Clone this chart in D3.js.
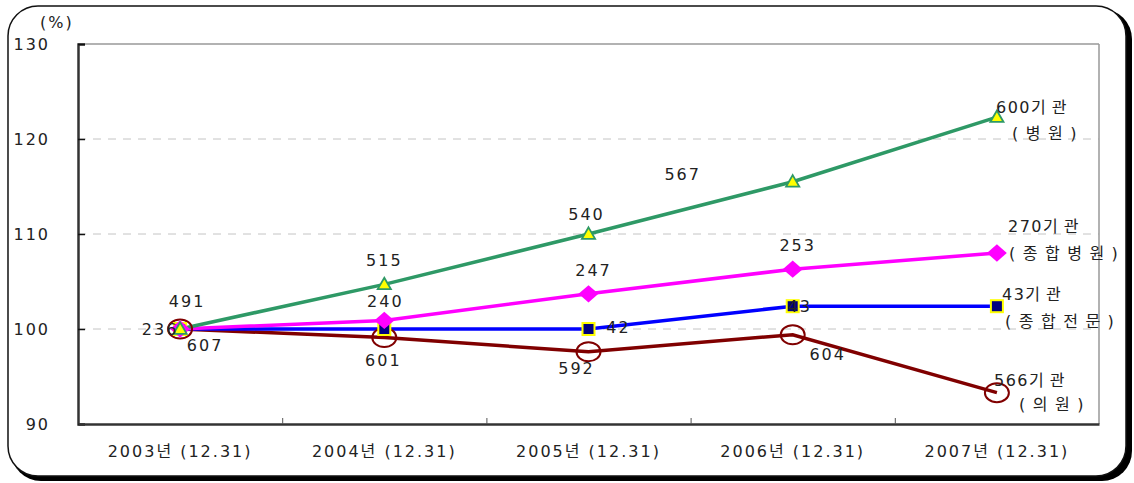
<!DOCTYPE html>
<html>
<head>
<meta charset="utf-8">
<script src="https://cdn.jsdelivr.net/npm/d3@7"></script>
<style>
  body { margin: 0; background: #fff; }
  svg text { font-family: "DejaVu Sans", "Noto Sans CJK KR", sans-serif; fill: #222; }
</style>
</head>
<body>
<svg id="main_chart" width="1134" height="483"></svg>
<script>
(function() {
  const years = ['2003년 (12.31)', '2004년 (12.31)', '2005년 (12.31)', '2006년 (12.31)', '2007년 (12.31)'];
  const yTicks = [90, 100, 110, 120, 130];

  // index values (2003 = 100)
  const hospital = [100, 104.7, 110, 115.5, 122.3];
  const generalHospital = [100, 100.9, 103.7, 106.3, 108];
  const tertiary = [100, 100, 100, 102.4, 102.4];
  const clinic = [100, 99.1, 97.6, 99.4, 93.3];

  // number of institutions
  const hospitalCount = ['491', '515', '540', '567', '600기관'];
  const generalCount = ['236', '240', '247', '253', '270기관'];
  const tertiaryCount = ['', '', '42', '43', '43기관'];
  const clinicCount = ['607', '601', '592', '604', '566기관'];
  const seriesNames = ['(병원)', '(종합병원)', '(종합전문)', '(의원)'];

  const svg = d3.select('#main_chart');

  // frame with shadow
  svg.append('rect').attr('x', 11).attr('y', 9).attr('width', 1121).attr('height', 472)
    .attr('rx', 30).attr('fill', '#000');
  svg.append('rect').attr('x', 8).attr('y', 6).attr('width', 1118).attr('height', 470)
    .attr('rx', 30).attr('fill', '#fff').attr('stroke', '#111').attr('stroke-width', 1.5);

  const left = 78, right = 1099, top = 44, bottom = 424;
  const x = d3.scaleBand().domain(years).range([left, right]);
  const y = d3.scaleLinear().domain([90, 130]).range([bottom, top]);
  const cx = function(i) { return x(years[i]) + x.bandwidth() / 2; };

  // grid
  svg.append('g').selectAll('line').data([100, 110, 120]).enter().append('line')
    .attr('x1', left).attr('x2', right)
    .attr('y1', function(d) { return y(d); }).attr('y2', function(d) { return y(d); })
    .attr('stroke', '#c4c4c4').attr('stroke-dasharray', '8,7');
  svg.append('line').attr('x1', left).attr('x2', right).attr('y1', top).attr('y2', top)
    .attr('stroke', '#999').attr('stroke-width', 1.5);
  svg.append('line').attr('x1', right).attr('x2', right).attr('y1', top).attr('y2', bottom)
    .attr('stroke', '#999').attr('stroke-width', 1.5);

  // y axis
  const yAxis = svg.append('g').attr('transform', 'translate(' + left + ',0)')
    .call(d3.axisRight(y).tickValues(yTicks).tickSize(7).tickFormat(''));
  yAxis.select('.domain').attr('stroke', '#333').attr('stroke-width', 2.5);
  yAxis.selectAll('.tick line').attr('stroke', '#111').attr('stroke-width', 1.5);
  svg.append('g').selectAll('text').data(yTicks).enter().append('text')
    .attr('x', 50).attr('y', function(d) { return y(d) + 6; })
    .attr('text-anchor', 'end').attr('font-size', 16).attr('letter-spacing', 2)
    .text(function(d) { return d; });
  svg.append('text').attr('x', 40).attr('y', 28).attr('font-size', 16).attr('letter-spacing', 2).text('(%)');

  // x axis
  const xAxis = svg.append('g').attr('transform', 'translate(0,' + bottom + ')')
    .call(d3.axisTop(d3.scaleLinear().domain([0, 5]).range([left, right])).tickValues([1, 2, 3, 4]).tickSize(6).tickFormat('').tickSizeOuter(0));
  xAxis.select('.domain').attr('stroke', '#333').attr('stroke-width', 2.5);
  xAxis.selectAll('.tick line').attr('stroke', '#555');
  svg.append('g').selectAll('text').data(years).enter().append('text')
    .attr('x', function(d) { return x(d) + x.bandwidth() / 2; }).attr('y', 457)
    .attr('text-anchor', 'middle').attr('font-size', 16).attr('letter-spacing', 2)
    .text(function(d) { return d; });

  const line = d3.line().x(function(d, i) { return cx(i); }).y(function(d) { return y(d); });
  const series = [
    { values: clinic, color: '#800000' },
    { values: tertiary, color: '#0000ff' },
    { values: generalHospital, color: '#ff00ff' },
    { values: hospital, color: '#2e9966' }
  ];
  svg.append('g').selectAll('path').data(series).enter().append('path')
    .attr('d', function(d) { return line(d.values); })
    .attr('fill', 'none').attr('stroke', function(d) { return d.color; }).attr('stroke-width', 3.5);

  // markers
  svg.append('g').selectAll('ellipse').data(clinic).enter().append('ellipse')
    .attr('cx', function(d, i) { return cx(i); }).attr('cy', function(d) { return y(d); })
    .attr('rx', 12).attr('ry', 9.5).attr('fill', 'none').attr('stroke', '#800000').attr('stroke-width', 2);
  svg.append('g').selectAll('rect').data(tertiary).enter().append('rect')
    .attr('x', function(d, i) { return cx(i) - 6; }).attr('y', function(d) { return y(d) - 6; })
    .attr('width', 12).attr('height', 12).attr('fill', '#000080').attr('stroke', '#ffff00').attr('stroke-width', 2);
  svg.append('g').selectAll('path').data(generalHospital).enter().append('path')
    .attr('d', d3.symbol(d3.symbolDiamond2, 190))
    .attr('transform', function(d, i) { return 'translate(' + cx(i) + ',' + y(d) + ') scale(1.15,1)'; })
    .attr('fill', '#ff00ff');
  svg.append('g').selectAll('path').data(hospital).enter().append('path')
    .attr('d', d3.symbol(d3.symbolTriangle, 75))
    .attr('transform', function(d, i) { return 'translate(' + cx(i) + ',' + (y(d) + 1) + ')'; })
    .attr('fill', '#ffff00').attr('stroke', '#2e9966').attr('stroke-width', 1.8);

  // data labels: [dx, dy] offsets from the point
  const labelSets = [
    { counts: hospitalCount, values: hospital, off: [[7, -22], [0, -18], [-2, -14], [-110, -2], [0, -4]] },
    { counts: generalCount, values: generalHospital, off: [[-20, 6], [1, -13], [5, -18], [5, -18], [0, -22]] },
    { counts: tertiaryCount, values: tertiary, off: [[0, 0], [0, 0], [30, 4], [7, 6], [0, -8]] },
    { counts: clinicCount, values: clinic, off: [[25, 22], [-1, 28], [-12, 22], [35, 25], [0, -7]] }
  ];
  const labels = svg.append('g').attr('font-size', 16).attr('letter-spacing', 2);
  labelSets.forEach(function(s) {
    labels.selectAll(null).data(s.counts.slice(0, 4)).enter().append('text')
      .attr('x', function(d, i) { return cx(i) + s.off[i][0]; })
      .attr('y', function(d, i) { return y(s.values[i]) + s.off[i][1]; })
      .attr('text-anchor', 'middle').text(function(d) { return d; });
  });

  // end labels
  const endPos = [[996, 113, 1012, 139], [1008, 232, 1009, 259], [1002, 300, 1005, 327], [994, 386, 1019, 410]];
  labelSets.forEach(function(s, k) {
    const m = s.counts[4].match(/^(\d+)(.*)$/);
    const t = labels.append('text').attr('x', endPos[k][0]).attr('y', endPos[k][1]);
    t.append('tspan').attr('letter-spacing', 1.5).text(m[1]);
    t.append('tspan').attr('letter-spacing', 6).text(m[2]);
    labels.append('text').attr('x', endPos[k][2]).attr('y', endPos[k][3]).attr('letter-spacing', 7.5).text(seriesNames[k]);
  });
}());
</script>
</body>
</html>
